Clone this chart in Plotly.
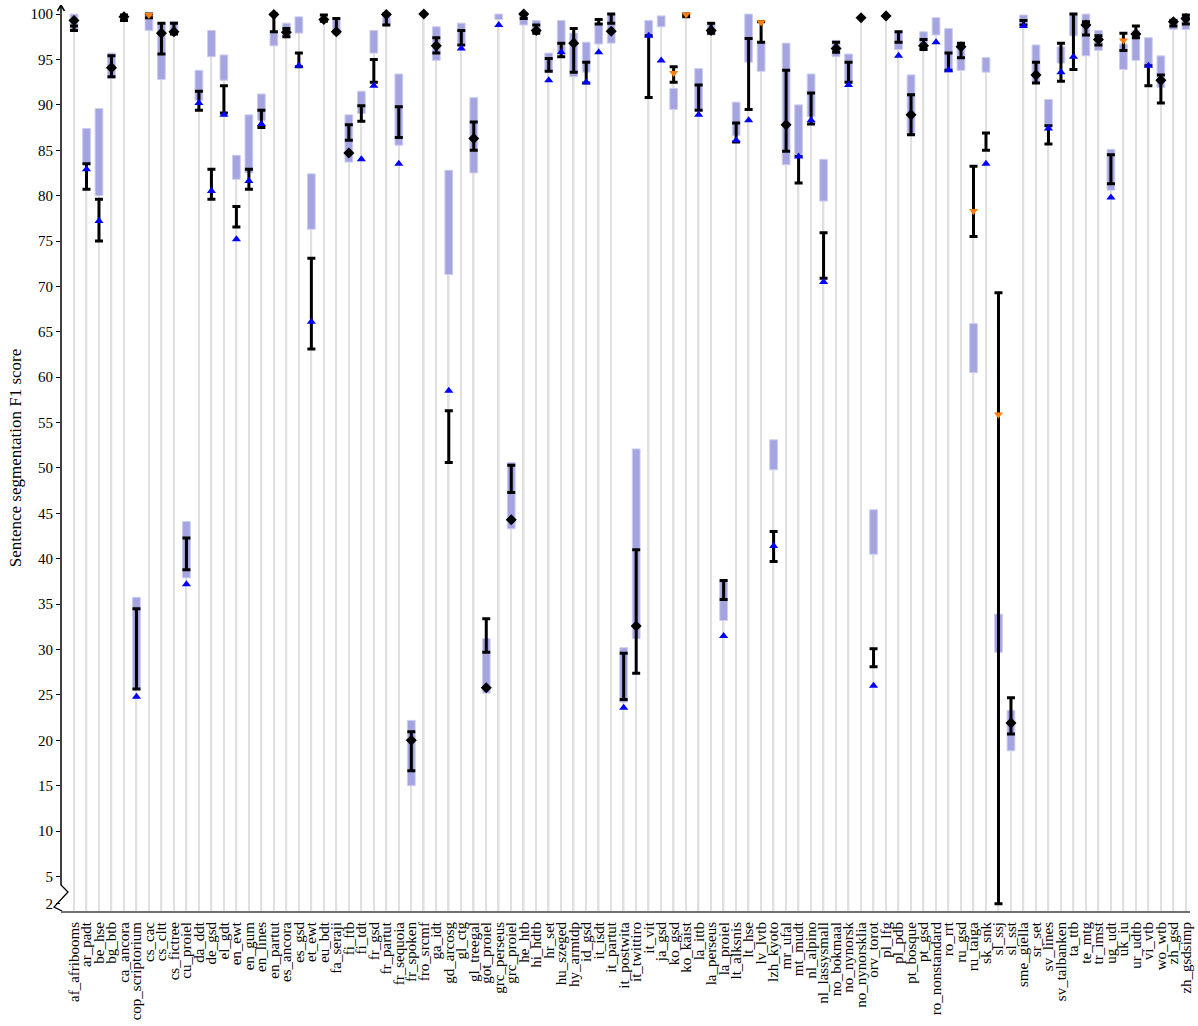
import numpy as np
import plotly.graph_objects as go

nan = np.nan

categories = [
    "af_afribooms", "ar_padt", "be_hse", "bg_btb", "ca_ancora", "cop_scriptorium", "cs_cac", "cs_cltt",
    "cs_fictree", "cu_proiel", "da_ddt", "de_gsd", "el_gdt", "en_ewt", "en_gum", "en_lines", "en_partut",
    "es_ancora", "es_gsd", "et_ewt", "eu_bdt", "fa_seraji", "fi_ftb", "fi_tdt", "fr_gsd", "fr_partut",
    "fr_sequoia", "fr_spoken", "fro_srcmf", "ga_idt", "gd_arcosg", "gl_ctg", "gl_treegal", "got_proiel",
    "grc_perseus", "grc_proiel", "he_htb", "hi_hdtb", "hr_set", "hu_szeged", "hy_armtdp", "id_gsd",
    "it_isdt", "it_partut", "it_postwita", "it_twittiro", "it_vit", "ja_gsd", "ko_gsd", "ko_kaist",
    "la_ittb", "la_perseus", "la_proiel", "lt_alksnis", "lt_hse", "lv_lvtb", "lzh_kyoto", "mr_ufal",
    "mt_mudt", "nl_alpino", "nl_lassysmall", "no_bokmaal", "no_nynorsk", "no_nynorsklia", "orv_torot",
    "pl_lfg", "pl_pdb", "pt_bosque", "pt_gsd", "ro_nonstandard", "ro_rrt", "ru_gsd", "ru_taiga", "sk_snk",
    "sl_ssj", "sl_sst", "sme_giella", "sr_set", "sv_lines", "sv_talbanken", "ta_ttb", "te_mtg", "tr_imst",
    "ug_udt", "uk_iu", "ur_udtb", "vi_vtb", "wo_wtb", "zh_gsd", "zh_gsdsimp",
]

# lavender range (low / high)
range_low = [
    98.2, 83.5, 80.0, 92.9, nan, 25.55, 98.2, 92.8, 97.7, 37.9, 90.5, 95.3, 92.7, 81.8, 82.5, 88.3, 96.5,
    97.4, 97.9, 76.3, nan, 97.7, 83.7, 89.05, 95.7, 98.7, 85.55, 15.0, nan, 94.9, 71.3, 96.8, 82.5, 25.2,
    99.4, 43.3, 98.8, 97.9, 93.6, 95.7, 93.1, 93.6, 96.7, 96.8, 24.2, 31.2, 97.6, 98.6, 89.5, nan,
    89.4, 97.7, 33.2, 86.6, 94.7, 93.7, 49.8, 83.4, 84.5, 88.7, 79.4, 95.3, 92.5, nan, 40.5,
    nan, 96.1, 86.7, 96.0, 97.7, 93.6, 93.8, 60.5, 93.6, 29.7, 18.85, 98.8, 92.5, 87.7, 94.6, 97.6, 95.4, 96.0,
    80.6, 93.9, 94.9, 94.3, 91.9, 98.3, 98.3,
]
range_high = [
    100.0, 87.4, 89.6, 95.7, nan, 35.75, 100.0, 99.0, 99.2, 44.1, 93.8, 98.2, 95.5, 84.45, 88.9, 91.2, 98.1,
    99.0, 99.7, 82.4, nan, 99.4, 88.9, 91.5, 98.2, 99.7, 93.4, 22.2, nan, 98.6, 82.8, 99.0, 90.8, 31.2,
    100.0, 50.6, 99.9, 99.3, 95.7, 99.3, 97.9, 96.9, 99.0, 100.0, 30.2, 52.1, 99.3, 99.8, 91.8, nan,
    94.0, 99.0, 37.6, 90.3, 100.0, 96.9, 53.1, 96.8, 90.0, 93.4, 84.0, 97.1, 95.6, nan, 45.4,
    nan, 98.05, 93.3, 98.05, 99.6, 98.4, 96.8, 65.9, 95.2, 33.9, 23.3, 99.9, 96.6, 90.6, 96.4, 100.0, 100.0, 98.2,
    85.1, 96.7, 98.2, 97.4, 95.4, 99.5, 99.9,
]

# black interval (low / high)
interval_low = [
    98.2, 80.7, 75.0, 93.1, 99.3, 25.65, 99.6, 95.6, 97.8, 38.8, 89.4, 79.6, 89.1, 76.55, 80.7, 87.5, 98.05,
    97.5, 94.2, 63.1, 99.2, 98.05, 86.1, 88.2, 92.5, 98.8, 86.4, 16.65, nan, 95.7, 50.6, 96.6, 85.0, 29.7,
    nan, 47.3, 99.5, 97.9, 93.7, 95.3, 93.6, 92.4, 98.9, 99.0, 24.5, 27.4, 90.8, nan, 92.5, 99.7,
    89.4, 97.9, 35.5, 85.9, 89.5, 96.9, 39.7, 84.9, 81.4, 87.9, 70.9, 95.8, 92.5, nan, 28.1,
    nan, 96.9, 86.7, 96.1, nan, 93.8, 95.2, 75.5, 85.0, 2.0, 20.7, 98.8, 92.4, 85.7, 92.6, 93.9, 97.7, 96.6,
    81.3, 96.0, 97.4, 92.1, 90.2, 98.7, 98.9,
]
interval_high = [
    98.7, 83.5, 79.6, 95.4, 99.9, 34.5, 100.0, 99.0, 99.0, 42.3, 91.5, 82.9, 92.1, 78.8, 82.9, 89.4, 100.0,
    98.4, 95.7, 73.1, 99.9, 99.5, 87.8, 89.9, 95.0, 100.0, 89.8, 20.95, nan, 97.4, 56.3, 98.2, 88.1, 33.4,
    nan, 50.3, 100.0, 98.8, 95.1, 96.8, 98.4, 94.7, 99.4, 100.0, 29.6, 41.0, 97.6, nan, 94.2, 100.0,
    92.2, 99.0, 37.6, 88.0, 97.3, 99.15, 43.0, 93.8, 84.3, 91.3, 75.9, 96.9, 94.7, nan, 30.1,
    nan, 98.05, 91.1, 97.2, nan, 95.7, 96.8, 83.25, 86.9, 69.3, 24.7, 99.3, 94.7, 87.7, 96.8, 100.0, 99.15, 97.6,
    84.5, 97.9, 98.7, 94.3, 93.3, 99.3, 99.9,
]

# score and its group: D = black diamond, U = blue triangle-up, V = orange triangle-down
scores = [
    99.3, 82.9, 77.2, 94.1, 99.7, 24.8, 99.9, 97.9, 98.05, 37.2, 90.2, 80.5, 88.9, 75.2, 81.6, 87.9, 99.95,
    98.0, 94.3, 66.1, 99.4, 98.05, 84.7, 84.0, 92.1, 99.95, 83.5, 20.0, 100.0, 96.5, 58.5, 96.2, 86.3, 25.8,
    98.8, 44.3, 100.0, 98.2, 92.7, 95.8, 96.8, 92.5, 95.8, 98.1, 23.6, 32.6, 97.6, 94.9, 93.5, 99.95,
    88.9, 98.2, 31.5, 86.1, 88.3, 99.1, 41.4, 87.8, 84.3, 88.3, 70.5, 96.2, 92.2, 99.6, 26.0,
    99.8, 95.4, 88.9, 96.5, 96.9, 93.8, 96.4, 78.3, 83.5, 55.9, 21.9, 98.7, 93.3, 87.4, 93.6, 95.3, 98.8, 97.2,
    79.8, 97.1, 97.8, 94.3, 92.7, 99.15, 99.5,
]
score_group = list(
    "DUUDDUVDDUUUUUUUDDUUDDDUUDUDDDUUDDUDDDUUDUUDUDUUVV"
    "UDUUUVUDUUUDUDUDUDDUUDVUVDUDUUUDDUVDUDDD"
)

tick_values = [2, 5, 10, 15, 20, 25, 30, 35, 40, 45, 50, 55, 60, 65, 70, 75, 80, 85, 90, 95, 100]

Y_MIN, Y_MAX = 1.2, 101.0
SERIF = "Liberation Serif, Times New Roman, serif"

x = np.arange(len(categories))
rl, rh = np.array(range_low), np.array(range_high)
il, ih = np.array(interval_low), np.array(interval_high)
sc = np.array(scores)
grp = np.array(score_group)
stem_top = np.nanmax(np.vstack([rh, ih, sc]), axis=0)

fig = go.Figure()

# stems
fig.add_trace(go.Bar(x=x, y=stem_top - Y_MIN, base=Y_MIN, width=0.13,
                     marker=dict(color="#e0e0e0", line=dict(width=0)), hoverinfo="skip"))
# lavender ranges
fig.add_trace(go.Bar(x=x, y=rh - rl, base=rl, width=0.62,
                     marker=dict(color="#a4a4e1", line=dict(color="#cdcdf2", width=1))))
# black intervals
fig.add_trace(go.Scatter(x=x, y=(il + ih) / 2, mode="markers",
                         marker=dict(size=1, color="rgba(0,0,0,0)"),
                         error_y=dict(type="data", symmetric=True, array=(ih - il) / 2,
                                      color="black", thickness=3, width=4)))

styles = {
    "D": dict(symbol="diamond", color="black", size=8.5),
    "U": dict(symbol="triangle-up", color="#0000ff", size=8),
    "V": dict(symbol="triangle-down", color="#ff7f0e", size=8),
}
for g, st in styles.items():
    m = grp == g
    fig.add_trace(go.Scatter(x=x[m], y=sc[m], mode="markers",
                             marker=dict(symbol=st["symbol"], color=st["color"], size=st["size"],
                                         line=dict(width=0))))

shapes = [
    # y-axis line (broken near the bottom)
    dict(type="line", xref="paper", yref="y", x0=0, x1=0, y0=4.05, y1=Y_MAX,
         line=dict(color="black", width=1.5), layer="above"),
    # zigzag break
    dict(type="path", xref="paper", yref="y", xsizemode="pixel", ysizemode="pixel",
         xanchor=0, yanchor=Y_MIN, path="M 0,26 L 7,19 L -7,4 L 1,0",
         line=dict(color="black", width=1.3), layer="above"),
    # arrow head
    dict(type="path", xref="paper", yref="y", xsizemode="pixel", ysizemode="pixel",
         xanchor=0, yanchor=Y_MAX, path="M -3.5,-6 L 0,0 L 3.5,-6",
         line=dict(color="black", width=1.5), layer="above"),
]

fig.update_layout(
    width=1198, height=1026,
    margin=dict(l=61, r=8, t=5, b=115),
    paper_bgcolor="white", plot_bgcolor="white",
    barmode="overlay", showlegend=False,
    font=dict(family=SERIF, color="black", size=15),
    shapes=shapes,
    xaxis=dict(range=[-1.04, 89.33], tickmode="array", tickvals=x, ticktext=categories,
               tickangle=-90, tickfont=dict(family=SERIF, size=15, color="black"),
               ticklabelstandoff=3, automargin=False,
               showline=True, linecolor="#707070", linewidth=2, showgrid=False,
               zeroline=False, ticks=""),
    yaxis=dict(range=[Y_MIN, Y_MAX], tickmode="array", tickvals=tick_values,
               tickfont=dict(family=SERIF, size=15, color="black"),
               showline=False, showgrid=False, zeroline=False,
               ticks="outside", ticklen=4, tickwidth=1, tickcolor="black",
               title=dict(text="Sentence segmentation F1 score",
                          font=dict(family=SERIF, size=17, color="black"), standoff=4)),
)

fig.write_html("out.html", config={"displayModeBar": False},
               post_script="document.body.style.margin='0';")
